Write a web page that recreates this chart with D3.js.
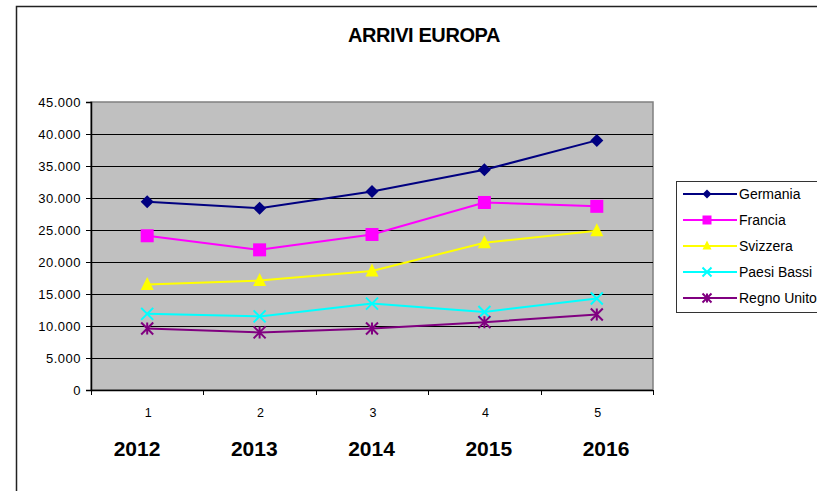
<!DOCTYPE html>
<html>
<head>
<meta charset="utf-8">
<script src="https://cdn.jsdelivr.net/npm/d3@7"></script>
<style>
  body { margin: 0; background: #fff; }
  text { font-family: "Liberation Sans", Arial, sans-serif; fill: #000; }
</style>
</head>
<body>
<div id="chart"></div>
<script>
// data
var categories = [1, 2, 3, 4, 5];
var years = ["2012", "2013", "2014", "2015", "2016"];
var yTicks = [0, 5000, 10000, 15000, 20000, 25000, 30000, 35000, 40000, 45000];

var germania = [29400, 28400, 31000, 34400, 39000];
var francia = [24100, 21900, 24300, 29300, 28700];
var svizzera = [16500, 17100, 18600, 23000, 24900];
var paesiBassi = [11900, 11500, 13500, 12200, 14300];
var regnoUnito = [9600, 9000, 9600, 10600, 11800];

var seriesNames = ["Germania", "Francia", "Svizzera", "Paesi Bassi", "Regno Unito"];
var seriesValues = [germania, francia, svizzera, paesiBassi, regnoUnito];
var seriesColors = ["#000080", "#FF00FF", "#FFFF00", "#00FFFF", "#800080"];
var seriesMarkers = ["diamond", "square", "triangle", "cross", "star"];

var svgWidth = 817;
var svgHeight = 491;

var plot = { left: 91, right: 653, top: 102, bottom: 390 };

var svg = d3.select("#chart")
    .append("svg")
    .attr("width", svgWidth)
    .attr("height", svgHeight);

// outer frame (left + top only visible)
svg.append("path")
    .attr("d", `M16.5,${svgHeight} L16.5,6.5 L${svgWidth},6.5`)
    .attr("fill", "none")
    .attr("stroke", "#222")
    .attr("stroke-width", 1.5);

// title
svg.append("text")
    .attr("x", 424)
    .attr("y", 42)
    .attr("text-anchor", "middle")
    .style("font-size", "20px")
    .style("font-weight", "bold")
    .style("letter-spacing", "-0.4px")
    .text("ARRIVI EUROPA");

// scales
var xScale = d3.scalePoint()
    .domain(categories)
    .range([plot.left, plot.right])
    .padding(0.5);

var xBand = d3.scaleBand()
    .domain(categories)
    .range([plot.left, plot.right]);

var yScale = d3.scaleLinear()
    .domain([0, 45000])
    .range([plot.bottom, plot.top]);

// plot background
svg.append("rect")
    .attr("x", plot.left)
    .attr("y", plot.top)
    .attr("width", plot.right - plot.left)
    .attr("height", plot.bottom - plot.top)
    .attr("fill", "#C0C0C0")
    .attr("stroke", "#808080")
    .attr("stroke-width", 1.5);

// gridlines
svg.append("g")
    .selectAll("line")
    .data(yTicks.filter(d => d > 0 && d < 45000))
    .enter()
    .append("line")
    .attr("x1", plot.left)
    .attr("x2", plot.right)
    .attr("y1", d => Math.round(yScale(d)) + 0.5)
    .attr("y2", d => Math.round(yScale(d)) + 0.5)
    .attr("stroke", "#000")
    .attr("stroke-width", 1.2);

// y axis
var fmt = d3.format(",");
var leftAxis = d3.axisLeft(yScale)
    .tickValues(yTicks)
    .tickSize(5)
    .tickPadding(5)
    .tickFormat(d => fmt(d).replace(/,/g, "."));

var yAxis = svg.append("g")
    .attr("transform", `translate(${plot.left}, 0)`)
    .call(leftAxis);
yAxis.select(".domain").attr("stroke", "#000").attr("stroke-width", 1.5);
yAxis.selectAll(".tick line").attr("stroke", "#000");
yAxis.selectAll("text")
    .style("font-size", "13px")
    .style("letter-spacing", "0.5px")
    .attr("fill", "#111")
    .style("font-family", "Liberation Sans, Arial, sans-serif");

// x axis: ticks at category boundaries
svg.append("line")
    .attr("x1", plot.left)
    .attr("x2", plot.right)
    .attr("y1", plot.bottom + 0.5)
    .attr("y2", plot.bottom + 0.5)
    .attr("stroke", "#000")
    .attr("stroke-width", 1.5);

var boundaries = categories.map(c => xBand(c)).concat([xBand(categories[4]) + xBand.bandwidth()]);
svg.append("g")
    .selectAll("line")
    .data(boundaries)
    .enter()
    .append("line")
    .attr("x1", d => Math.round(d) + 0.5)
    .attr("x2", d => Math.round(d) + 0.5)
    .attr("y1", plot.bottom)
    .attr("y2", plot.bottom + 5)
    .attr("stroke", "#000");

svg.append("g")
    .selectAll("text")
    .data(categories)
    .enter()
    .append("text")
    .attr("x", d => xScale(d) + 1)
    .attr("y", 417)
    .attr("text-anchor", "middle")
    .attr("fill", "#222")
    .style("font-size", "12.5px")
    .text(d => d);

// year labels (separate text box under the axis)
var yearScale = d3.scalePoint()
    .domain(years)
    .range([137, 606]);

svg.append("g")
    .selectAll("text")
    .data(years)
    .enter()
    .append("text")
    .attr("x", d => yearScale(d))
    .attr("y", 456)
    .attr("text-anchor", "middle")
    .style("font-size", "21px")
    .style("font-weight", "bold")
    .text(d => d);

// markers
function drawMarker(g, type, color, s) {
    var h = s / 2;
    if (type === "diamond") {
        g.append("path")
            .attr("d", `M0,${-h} L${h},0 L0,${h} L${-h},0 Z`)
            .attr("fill", color);
    } else if (type === "square") {
        g.append("rect")
            .attr("x", -h).attr("y", -h)
            .attr("width", s).attr("height", s)
            .attr("fill", color);
    } else if (type === "triangle") {
        g.append("path")
            .attr("d", `M0,${-h - 1} L${h},${h - 1} L${-h},${h - 1} Z`)
            .attr("fill", color);
    } else if (type === "cross") {
        g.append("path")
            .attr("d", `M${-h},${-h} L${h},${h} M${-h},${h} L${h},${-h}`)
            .attr("stroke", color)
            .attr("stroke-width", 2);
    } else if (type === "star") {
        g.append("path")
            .attr("d", `M${-h},${-h} L${h},${h} M${-h},${h} L${h},${-h} M0,${-h} L0,${h}`)
            .attr("stroke", color)
            .attr("stroke-width", 2);
    }
}

var markerSize = { diamond: 13, square: 13, triangle: 13, cross: 12, star: 12 };

var line = d3.line()
    .x((d, i) => xScale(categories[i]))
    .y(d => yScale(d));

seriesValues.forEach(function (vals, k) {
    svg.append("path")
        .datum(vals)
        .attr("d", line)
        .attr("fill", "none")
        .attr("stroke", seriesColors[k])
        .attr("stroke-width", 2);

    vals.forEach(function (v, i) {
        var g = svg.append("g")
            .attr("transform", `translate(${xScale(categories[i])}, ${yScale(v)})`);
        drawMarker(g, seriesMarkers[k], seriesColors[k], markerSize[seriesMarkers[k]]);
    });
});

// legend
var legend = svg.append("g");
legend.append("rect")
    .attr("x", 676.5)
    .attr("y", 181.5)
    .attr("width", 160)
    .attr("height", 131)
    .attr("fill", "#fff")
    .attr("stroke", "#333");

seriesNames.forEach(function (name, k) {
    var y = 194 + k * 26;
    legend.append("line")
        .attr("x1", 683)
        .attr("x2", 737)
        .attr("y1", y)
        .attr("y2", y)
        .attr("stroke", seriesColors[k])
        .attr("stroke-width", 2);
    var g = legend.append("g").attr("transform", `translate(707, ${y})`);
    drawMarker(g, seriesMarkers[k], seriesColors[k], 9);
    legend.append("text")
        .attr("x", 739)
        .attr("y", y + 5)
        .style("font-size", "14px")
        .text(name);
});
</script>
</body>
</html>
